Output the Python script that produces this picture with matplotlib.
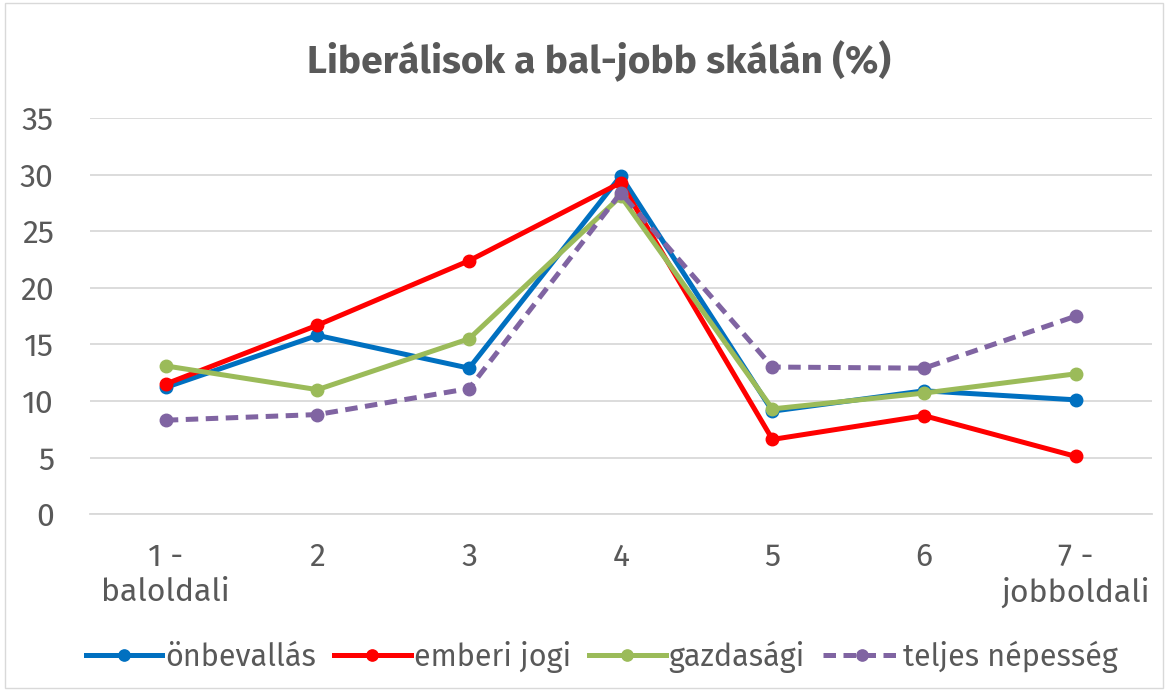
import matplotlib.pyplot as plt
from matplotlib.patches import Rectangle

plt.rcParams['font.family'] = ['Fira Sans', 'Open Sans', 'DejaVu Sans']

categories = ["1 -\nbaloldali", "2", "3", "4", "5", "6", "7 -\njobboldali"]
onbevallas = [11.2, 15.8, 12.9, 29.9, 9.1, 10.9, 10.1]
emberi_jogi = [11.5, 16.7, 22.4, 29.3, 6.6, 8.7, 5.1]
gazdasagi = [13.1, 11.0, 15.5, 28.1, 9.3, 10.7, 12.4]
teljes = [8.3, 8.8, 11.1, 28.4, 13.0, 12.9, 17.5]

fig = plt.figure(figsize=(11.68, 6.91), dpi=100)
ax = fig.add_axes([0.077, 0.256, 0.909, 0.573])

x = list(range(1, len(categories) + 1))
ax.plot(x, onbevallas, color="#0070C0", lw=3.6, marker="o", ms=9, label="önbevallás")
ax.plot(x, emberi_jogi, color="#FF0000", lw=3.6, marker="o", ms=9, label="emberi jogi")
ax.plot(x, gazdasagi, color="#9BBB59", lw=3.6, marker="o", ms=9, label="gazdasági")
ax.plot(x, teljes, color="#8064A2", lw=3.6, marker="o", ms=9, ls=(0, (2.5, 1.5)),
        label="teljes népesség")

ax.set_xlim(0.5, 7.5)
ax.set_ylim(0, 35)
ax.set_yticks(range(0, 36, 5))
ax.set_xticks(x)
ax.set_xticklabels(categories, linespacing=1.2)
ax.grid(axis="y", color="#D9D9D9", lw=1.3)
ax.set_axisbelow(True)
for s in ["top", "right", "left"]:
    ax.spines[s].set_visible(False)
ax.spines["bottom"].set_color("#D9D9D9")
ax.spines["bottom"].set_linewidth(1.3)
ax.tick_params(length=0, labelsize=23, labelcolor="#595959", pad=20)
ax.tick_params(axis="y", pad=26)

fig.text(0.513, 0.912, "Liberálisok a bal-jobb skálán (%)", ha="center", va="center",
         fontsize=28, fontweight="bold", color="#595959")

fig.legend(loc="center", bbox_to_anchor=(0.515, 0.05), ncol=4, frameon=False,
           fontsize=22, labelcolor="#595959", handlelength=2.5, handletextpad=0.1,
           columnspacing=0.6, markerscale=0.9)

fig.patches.append(Rectangle((0.004, 0.004), 0.992, 0.992, transform=fig.transFigure,
                             fill=False, edgecolor="#D9D9D9", lw=1))

fig.savefig("out.png", dpi=100)
